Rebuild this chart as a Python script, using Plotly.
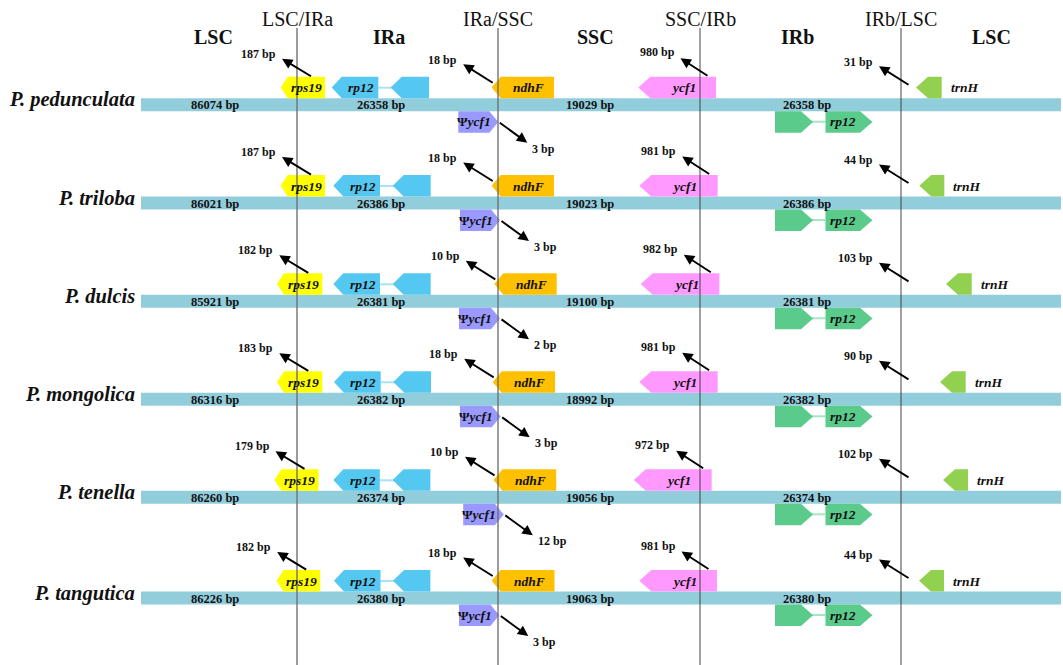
import plotly.graph_objects as go

# ---- data -------------------------------------------------------------
species = ["P. pedunculata", "P. triloba", "P. dulcis",
           "P. mongolica", "P. tenella", "P. tangutica"]
lsc_len = [86074, 86021, 85921, 86316, 86260, 86226]
ir_len = [26358, 26386, 26381, 26382, 26374, 26380]
ssc_len = [19029, 19023, 19100, 18992, 19056, 19063]

rps19_bp = [187, 187, 182, 183, 179, 182]
ndhF_bp = [18, 18, 10, 18, 10, 18]
psi_ycf1_bp = [3, 3, 2, 3, 12, 3]
ycf1_bp = [980, 981, 982, 981, 972, 981]
trnH_bp = [31, 44, 103, 90, 102, 44]

junctions = ["LSC/IRa", "IRa/SSC", "SSC/IRb", "IRb/LSC"]
regions = ["LSC", "IRa", "SSC", "IRb", "LSC"]

# ---- diagram geometry (drawing units = canvas pixels) -----------------
W, H = 1063, 665
row_y = [104.7, 203, 301.3, 399.3, 497.3, 598]
junction_x = [297, 498, 700, 901]
region_x = [213.5, 389, 595, 797.5, 991]
bar_x = (141, 1061)
seg_label_x = [215, 381, 590, 807]

# gene extents per row: (left, right)
rps19_span = [(280.7, 325), (280.7, 325), (277, 322.3), (277, 322.3), (274.4, 318.5), (276.5, 320.2)]
rp12a_left = [(331.7, 378.3), (333.3, 380), (333.3, 380), (334, 380.7), (333.3, 379.8), (334, 380.5)]
rp12a_right = [(390.7, 429), (392.7, 430.7), (392.7, 430.7), (393.3, 431), (392.6, 430.4), (393, 430.4)]
ndhF_span = [(491.7, 554), (491.7, 554), (494.3, 556.7), (492.7, 555), (493.5, 556.2), (491.7, 554.5)]
psi_span = [(458.3, 498.3), (460, 500), (459, 500), (460, 500.7), (463.2, 503.8), (459, 499.3)]
ycf1_span = [(638.3, 716), (639.3, 717.7), (640.7, 719.3), (639.3, 717.7), (633.8, 711.7), (639.3, 717)]
trnH_span = [(916, 941.7), (919.3, 944.3), (946, 971.7), (940, 965.7), (943, 968), (919, 944)]
rp12b_left = (775, 813)
rp12b_right = (825.5, 872.5)

# ---- styles -----------------------------------------------------------
SERIF = "Liberation Serif"
BAR_COLOR = "#92CDDC"
C_RPS19 = "#FFFF00"
C_RP12A = "#55C8F2"
C_RP12A_LINK = "#A9E2F8"
C_NDHF = "#FFC000"
C_PSI = "#9999FF"
C_YCF1 = "#FF99FF"
C_TRNH = "#92D050"
C_RP12B = "#5BCB8C"
C_RP12B_LINK = "#A6E6C3"
TEXT = "#111111"

BAR_HALF = 6.5
GENE_H = 21.5

shapes = []
annotations = []


def pent_left(x0, x1, yt, yb, tip):
    ym = (yt + yb) / 2
    return (f"M {x0},{ym} L {x0 + tip},{yt} L {x1},{yt} "
            f"L {x1},{yb} L {x0 + tip},{yb} Z")


def pent_right(x0, x1, yt, yb, tip):
    ym = (yt + yb) / 2
    return (f"M {x0},{yt} L {x1 - tip},{yt} L {x1},{ym} "
            f"L {x1 - tip},{yb} L {x0},{yb} Z")


def add_path(path, color):
    shapes.append(dict(type="path", path=path, xref="x", yref="y",
                       fillcolor=color, line=dict(width=0), layer="below"))


def add_text(x, y, text, size, xanchor="center", yanchor="middle", color=TEXT):
    annotations.append(dict(x=x, y=y, xref="x", yref="y", text=text,
                            showarrow=False, xanchor=xanchor, yanchor=yanchor,
                            font=dict(family=SERIF, size=size, color=color)))


def add_arrow(tail, head):
    annotations.append(dict(x=head[0], y=head[1], ax=tail[0], ay=tail[1],
                            xref="x", yref="y", axref="x", ayref="y",
                            text="", showarrow=True, arrowhead=2,
                            arrowsize=1.1, arrowwidth=1.9, arrowcolor="#000000",
                            standoff=0, startstandoff=0))


def bp(v):
    return f"<b>{v} bp</b>"


# headers
for jx, name in zip(junction_x, junctions):
    add_text(jx, 19, name, 20)
for rx, name in zip(region_x, regions):
    add_text(rx, 37, f"<b>{name}</b>", 20)

for i, c in enumerate(row_y):
    up_t, up_b = c - BAR_HALF - GENE_H, c - BAR_HALF
    lo_t, lo_b = c + BAR_HALF, c + BAR_HALF + GENE_H
    up_mid, lo_mid = c - 17, c + 17

    # genome bar
    shapes.append(dict(type="rect", xref="x", yref="y", x0=bar_x[0], x1=bar_x[1],
                       y0=c - BAR_HALF, y1=c + BAR_HALF, fillcolor=BAR_COLOR,
                       line=dict(width=0), layer="below"))

    # species name
    add_text(bar_x[0] - 4, c - 5, f"<b><i>{species[i]}</i></b>", 20.5, xanchor="right")

    # region lengths
    for sx, v in zip(seg_label_x, [lsc_len[i], ir_len[i], ssc_len[i], ir_len[i]]):
        add_text(sx, c + 0.5, bp(v), 12.5)

    # rps19
    x0, x1 = rps19_span[i]
    add_path(pent_left(x0, x1, up_t, up_b, 7), C_RPS19)
    add_text((x0 + 7 + x1) / 2, up_mid, "<b><i>rps19</i></b>", 13.5)
    tail = (x1 - 12.5, c - 27.5)
    head = (tail[0] - 30.5, tail[1] - 18.5)
    add_arrow(tail, head)
    add_text(head[0] - 4, head[1] - 5, bp(rps19_bp[i]), 12, xanchor="right")

    # rpl2 (IRa), two exons joined by an intron line
    a0, a1 = rp12a_left[i]
    b0, b1 = rp12a_right[i]
    shapes.append(dict(type="line", xref="x", yref="y", x0=a1, x1=b0 + 5,
                       y0=up_mid, y1=up_mid, line=dict(color=C_RP12A_LINK, width=2),
                       layer="below"))
    add_path(pent_left(a0, a1, up_t, up_b, 10), C_RP12A)
    add_path(pent_left(b0, b1, up_t, up_b, 11), C_RP12A)
    add_text((a0 + 10 + a1) / 2 + 1, up_mid, "<b><i>rp12</i></b>", 13.5)

    # ndhF
    x0, x1 = ndhF_span[i]
    add_path(pent_left(x0, x1, up_t, up_b, 9), C_NDHF)
    add_text((x0 + 9 + x1) / 2 + 1.5, up_mid, "<b><i>ndhF</i></b>", 13.5)
    tail = (x0 + 2.5, c - 21)
    head = (tail[0] - 31, tail[1] - 19.5)
    add_arrow(tail, head)
    add_text(head[0] - 4, head[1] - 4.5, bp(ndhF_bp[i]), 12, xanchor="right")

    # pseudo ycf1
    x0, x1 = psi_span[i]
    add_path(pent_right(x0, x1, lo_t, lo_b, 9), C_PSI)
    add_text((x0 + x1 - 9) / 2, lo_mid, "<b>\u03a8<i>ycf1</i></b>", 13.5)
    tail = (x1, c + 17)
    head = (tail[0] + 29, tail[1] + 21)
    add_arrow(tail, head)
    add_text(head[0] + 3, head[1] + 6, bp(psi_ycf1_bp[i]), 12, xanchor="left")

    # ycf1
    x0, x1 = ycf1_span[i]
    add_path(pent_left(x0, x1, up_t, up_b, 12), C_YCF1)
    add_text((x0 + 12 + x1) / 2, up_mid, "<b><i>ycf1</i></b>", 13.5)
    tail = (x1 - 7, c - 28)
    head = (tail[0] - 28.5, tail[1] - 18.5)
    add_arrow(tail, head)
    add_text(head[0] - 4, head[1] - 6, bp(ycf1_bp[i]), 12, xanchor="right")

    # rpl2 (IRb)
    a0, a1 = rp12b_left
    b0, b1 = rp12b_right
    shapes.append(dict(type="line", xref="x", yref="y", x0=a1 - 5, x1=b0,
                       y0=lo_mid, y1=lo_mid, line=dict(color=C_RP12B_LINK, width=2),
                       layer="below"))
    add_path(pent_right(a0, a1, lo_t, lo_b, 12), C_RP12B)
    add_path(pent_right(b0, b1, lo_t, lo_b, 12.5), C_RP12B)
    add_text((b0 + b1 - 12.5) / 2, lo_mid, "<b><i>rp12</i></b>", 13.5)

    # trnH
    x0, x1 = trnH_span[i]
    add_path(pent_left(x0, x1, up_t, up_b, 12), C_TRNH)
    add_text(x1 + 7, up_mid, "<b><i>trnH</i></b>", 13.5, xanchor="left")
    tail = (910, c - 19)
    head = (tail[0] - 31, tail[1] - 19.5)
    add_arrow(tail, head)
    add_text(head[0] - 4, head[1] - 4.5, bp(trnH_bp[i]), 12, xanchor="right")

# junction lines, drawn over the bars and genes
line_styles = [("rgba(110,110,110,0.75)", 1.8), ("rgba(110,110,110,0.75)", 1.8),
               ("rgba(60,60,60,0.8)", 1.2), ("rgba(60,60,60,0.8)", 1.2)]
for jx, (col, w) in zip(junction_x, line_styles):
    shapes.append(dict(type="line", xref="x", yref="y", x0=jx, x1=jx, y0=28, y1=H,
                       line=dict(color=col, width=w), layer="above"))

fig = go.Figure()
fig.update_layout(
    width=W, height=H,
    margin=dict(l=0, r=0, t=0, b=0),
    paper_bgcolor="white", plot_bgcolor="white",
    xaxis=dict(range=[0, W], visible=False, fixedrange=True),
    yaxis=dict(range=[H, 0], visible=False, fixedrange=True),
    shapes=shapes, annotations=annotations, showlegend=False,
)
fig.write_html("out.html")
